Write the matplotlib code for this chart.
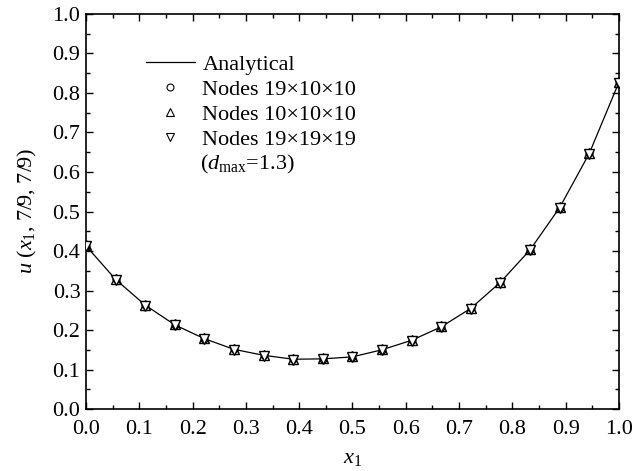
import matplotlib
matplotlib.use("Agg")
import matplotlib.pyplot as plt
from matplotlib.lines import Line2D
from matplotlib.ticker import MultipleLocator, FormatStrFormatter

plt.rcParams["font.family"] = ["Liberation Serif", "DejaVu Serif"]
plt.rcParams["mathtext.fontset"] = "custom"
plt.rcParams["mathtext.rm"] = "Liberation Serif"
plt.rcParams["mathtext.it"] = "Liberation Serif:italic"

FS = 16

# Nodal positions along x1 (19 nodes on [0, 1])
x_nodes = [i / 18 for i in range(19)]

# Solution values u(x1, 7/9, 7/9)
u_analytical = [0.413, 0.328, 0.263, 0.213, 0.178, 0.151, 0.136, 0.126, 0.127,
                0.132, 0.150, 0.174, 0.208, 0.255, 0.321, 0.403, 0.510, 0.647, 0.827]
u_19x10x10 = [0.413, 0.328, 0.263, 0.213, 0.178, 0.151, 0.136, 0.126, 0.127,
              0.132, 0.150, 0.174, 0.208, 0.255, 0.321, 0.403, 0.510, 0.647, 0.827]
u_10x10x10 = [0.414, 0.329, 0.264, 0.214, 0.179, 0.152, 0.137, 0.127, 0.128,
              0.133, 0.151, 0.175, 0.209, 0.256, 0.322, 0.404, 0.511, 0.648, 0.828]
u_19x19x19 = [0.412, 0.327, 0.262, 0.212, 0.177, 0.150, 0.135, 0.125, 0.126,
              0.131, 0.149, 0.173, 0.207, 0.254, 0.320, 0.402, 0.509, 0.646, 0.826]

fig = plt.figure(figsize=(6.42, 4.71), dpi=100)
ax = fig.add_axes([0.134, 0.1316, 0.830, 0.8387])

ax.plot(x_nodes, u_analytical, color="black", lw=0.9, zorder=2)
ax.plot(x_nodes, u_19x10x10, ls="none", marker="o", ms=5, mfc="none",
        mec="black", mew=0.9, zorder=3)
ax.plot(x_nodes, u_10x10x10, ls="none", marker="^", ms=7.5, mfc="none",
        mec="black", mew=1.0, zorder=3)
ax.plot(x_nodes, u_19x19x19, ls="none", marker="v", ms=7.5, mfc="white",
        mec="black", mew=1.0, zorder=4)

ax.set_xlim(0, 1)
ax.set_ylim(0, 1)
ax.xaxis.set_major_locator(MultipleLocator(0.1))
ax.xaxis.set_minor_locator(MultipleLocator(0.05))
ax.yaxis.set_major_locator(MultipleLocator(0.1))
ax.yaxis.set_minor_locator(MultipleLocator(0.05))
ax.xaxis.set_major_formatter(FormatStrFormatter("%.1f"))
ax.yaxis.set_major_formatter(FormatStrFormatter("%.1f"))
ax.tick_params(which="both", direction="in", top=True, right=True,
               labelsize=FS, width=1.0)
ax.tick_params(axis="x", pad=8)
ax.tick_params(axis="y", pad=4)
ax.tick_params(which="major", length=5)
ax.tick_params(which="minor", length=3)
for s in ax.spines.values():
    s.set_linewidth(1.2)

ax.set_xlabel(r"$x_1$", fontsize=FS, labelpad=7)
ax.set_ylabel(r"$u$ ($x_1$, 7/9, 7/9)", fontsize=FS, labelpad=10)

handles = [
    Line2D([], [], color="black", lw=0.9),
    Line2D([], [], ls="none", marker="o", ms=5, mfc="none", mec="black", mew=0.8),
    Line2D([], [], ls="none", marker="^", ms=5.5, mfc="none", mec="black", mew=0.8),
    Line2D([], [], ls="none", marker="v", ms=5.5, mfc="none", mec="black", mew=0.8),
]
labels = ["Analytical", "Nodes 19×10×10", "Nodes 10×10×10", "Nodes 19×19×19"]
ax.legend(handles, labels, loc="upper left", bbox_to_anchor=(0.112, 0.897),
          frameon=False, fontsize=FS, handlelength=2.2, handletextpad=0.35,
          labelspacing=0.2, borderaxespad=0, borderpad=0)
ax.text(0.214, 0.62, r"($d_{\mathrm{max}}$=1.3)", transform=ax.transAxes,
        fontsize=FS, va="center", ha="left")

fig.savefig("out.png", dpi=100)
